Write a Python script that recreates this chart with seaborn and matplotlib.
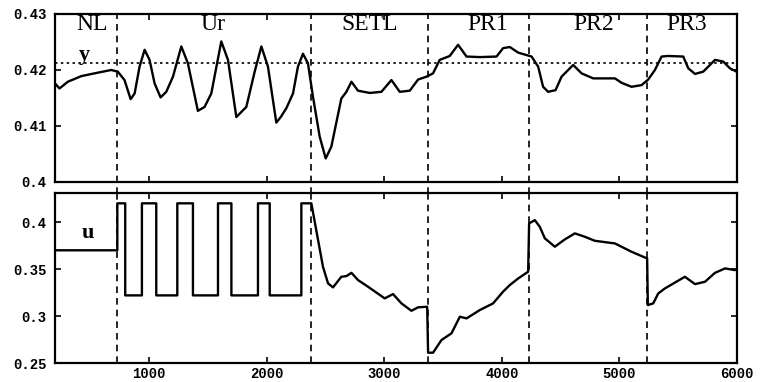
import matplotlib
matplotlib.use("Agg")
import matplotlib.pyplot as plt
import seaborn as sns
import pandas as pd

# ---------------- data ----------------
y_t = [200, 238, 309, 423, 536, 678, 734, 791, 843, 877, 919, 962, 1004, 1047, 1098, 1146,
       1203, 1274, 1330, 1415, 1472, 1529, 1614, 1671, 1742, 1827, 1898, 1955, 2011, 2082,
       2120, 2168, 2224, 2266, 2309, 2351, 2394, 2451, 2502, 2550, 2635, 2678, 2721, 2777,
       2877, 2976, 3061, 3132, 3217, 3288, 3359, 3415, 3472, 3557, 3628, 3700, 3813, 3955,
       4011, 4068, 4139, 4253, 4309, 4351, 4394, 4457, 4508, 4607, 4678, 4777, 4962, 5019,
       5104, 5189, 5245, 5302, 5359, 5415, 5543, 5586, 5643, 5713, 5813, 5884, 5940, 5997]
y_v = [0.4176, 0.4167, 0.4179, 0.4189, 0.4194, 0.4200, 0.4197, 0.4182, 0.4148, 0.4158,
       0.4206, 0.4236, 0.4218, 0.4176, 0.4151, 0.4161, 0.4188, 0.4242, 0.4212, 0.4127,
       0.4134, 0.4158, 0.4251, 0.4218, 0.4116, 0.4134, 0.4197, 0.4242, 0.4206, 0.4106,
       0.4116, 0.4132, 0.4158, 0.4206, 0.4229, 0.4212, 0.4152, 0.4081, 0.4042, 0.4063,
       0.4149, 0.4161, 0.4179, 0.4163, 0.4159, 0.4161, 0.4182, 0.4161, 0.4163, 0.4183,
       0.4188, 0.4194, 0.4218, 0.4225, 0.4245, 0.4224, 0.4223, 0.4224, 0.4239, 0.4241,
       0.4231, 0.4224, 0.4206, 0.4170, 0.4161, 0.4164, 0.4188, 0.4209, 0.4194, 0.4185,
       0.4185, 0.4177, 0.4170, 0.4173, 0.4183, 0.4200, 0.4224, 0.4225, 0.4224, 0.4203,
       0.4193, 0.4197, 0.4218, 0.4215, 0.4203, 0.4197]

u_t = [200, 730, 730, 797, 797, 939, 939, 1061, 1061, 1240, 1240, 1373, 1373, 1586, 1586,
       1700, 1700, 1926, 1926, 2026, 2026, 2295, 2295, 2380, 2479, 2522, 2564, 2635, 2678,
       2721, 2777, 2862, 3004, 3075, 3146, 3231, 3288, 3365, 3373, 3415, 3487, 3572, 3643,
       3700, 3813, 3926, 4011, 4068, 4139, 4224, 4232, 4281, 4323, 4366, 4451, 4536, 4621,
       4706, 4791, 4962, 5104, 5236, 5242, 5288, 5330, 5387, 5557, 5643, 5728, 5813, 5898,
       5983]
u_v = [0.370, 0.370, 0.420, 0.420, 0.322, 0.322, 0.420, 0.420, 0.322, 0.322, 0.420, 0.420,
       0.322, 0.322, 0.420, 0.420, 0.322, 0.322, 0.420, 0.420, 0.322, 0.322, 0.420, 0.420,
       0.3524, 0.3348, 0.3305, 0.3418, 0.3425, 0.3460, 0.3383, 0.3312, 0.3188, 0.3234,
       0.3135, 0.3056, 0.3093, 0.3099, 0.2610, 0.2610, 0.2745, 0.2816, 0.2993, 0.2975,
       0.3064, 0.3135, 0.3260, 0.3330, 0.3400, 0.3472, 0.3986, 0.4021, 0.3950, 0.3827,
       0.3738, 0.3816, 0.3880, 0.3844, 0.3801, 0.3773, 0.3684, 0.3613, 0.3117, 0.3135,
       0.3240, 0.3294, 0.3418, 0.3340, 0.3365, 0.3460, 0.3507, 0.3489]

y_ref = 0.4213
phase_bounds = [730, 2380, 3370, 4228, 5238]
phase_names = ["NL", "Ur", "SETL", "PR1", "PR2", "PR3"]
phase_label_x = [519, 1540, 2877, 3881, 4783, 5574]

x_ticks = [1000, 2000, 3000, 4000, 5000, 6000]
x_tick_labels = ["1000", "2000", "3000", "4000", "5000", "6000"]
top_ticks = [0.40, 0.41, 0.42, 0.43]
top_tick_labels = ["0.4", "0.41", "0.42", "0.43"]
bot_ticks = [0.25, 0.30, 0.35, 0.40]
bot_tick_labels = ["0.25", "0.3", "0.35", "0.4"]

# ---------------- plot ----------------
sns.set_style("ticks")
plt.rcParams['font.family'] = ['Liberation Mono', 'DejaVu Sans']

fig = plt.figure(figsize=(7.6, 3.82), dpi=100)
ax1 = fig.add_axes([0.0724, 0.5236, 0.8973, 0.4398])
ax2 = fig.add_axes([0.0724, 0.0497, 0.8973, 0.4451])

dfy = pd.DataFrame({"t": y_t, "y": y_v})
dfu = pd.DataFrame({"t": u_t, "u": u_v})
sns.lineplot(data=dfy, x="t", y="y", ax=ax1, color="black", lw=1.7, sort=False, estimator=None)
sns.lineplot(data=dfu, x="t", y="u", ax=ax2, color="black", lw=1.7, sort=False, estimator=None)

ax1.set_xlim(200, 6000)
ax2.set_xlim(200, 6000)
ax1.set_ylim(0.40, 0.43)
ax2.set_ylim(0.25, 0.431)

ax1.axhline(y_ref, color="black", lw=1.2, ls=(0, (1.5, 2)))

for b in phase_bounds:
    ax1.axvline(b, ymin=-0.07, ymax=1, color="black", lw=1.2, ls=(0, (4, 3)), clip_on=False)
    ax2.axvline(b, color="black", lw=1.2, ls=(0, (4, 3)))

for name, xl in zip(phase_names, phase_label_x):
    ax1.text(xl, 0.4281, name, ha="center", va="center", fontsize=17,
             family=["Liberation Serif"], color="black")
ax1.text(451, 0.4226, "y", ha="center", va="center", fontsize=16,
         family=["Liberation Serif"], fontweight="bold", color="black")
ax2.text(477, 0.388, "u", ha="center", va="center", fontsize=16,
         family=["Liberation Serif"], fontweight="bold", color="black")

for ax in (ax1, ax2):
    ax.set_xlabel("")
    ax.set_ylabel("")
    for s in ax.spines.values():
        s.set_linewidth(1.6)
        s.set_color("black")
        s.set_visible(True)
    ax.tick_params(direction="in", length=4, width=1.2, top=True, right=True,
                   labelsize=10, pad=3, colors="black")
    ax.set_xticks(x_ticks)

ax1.set_xticklabels([])
ax2.set_xticklabels(x_tick_labels, fontweight="bold")
ax1.set_yticks(top_ticks)
ax1.set_yticklabels(top_tick_labels, fontweight="bold")
ax2.set_yticks(bot_ticks)
ax2.set_yticklabels(bot_tick_labels, fontweight="bold")
ax1.tick_params(axis="y", pad=6)
ax2.tick_params(axis="y", pad=6)

fig.savefig("out.png", dpi=100)
